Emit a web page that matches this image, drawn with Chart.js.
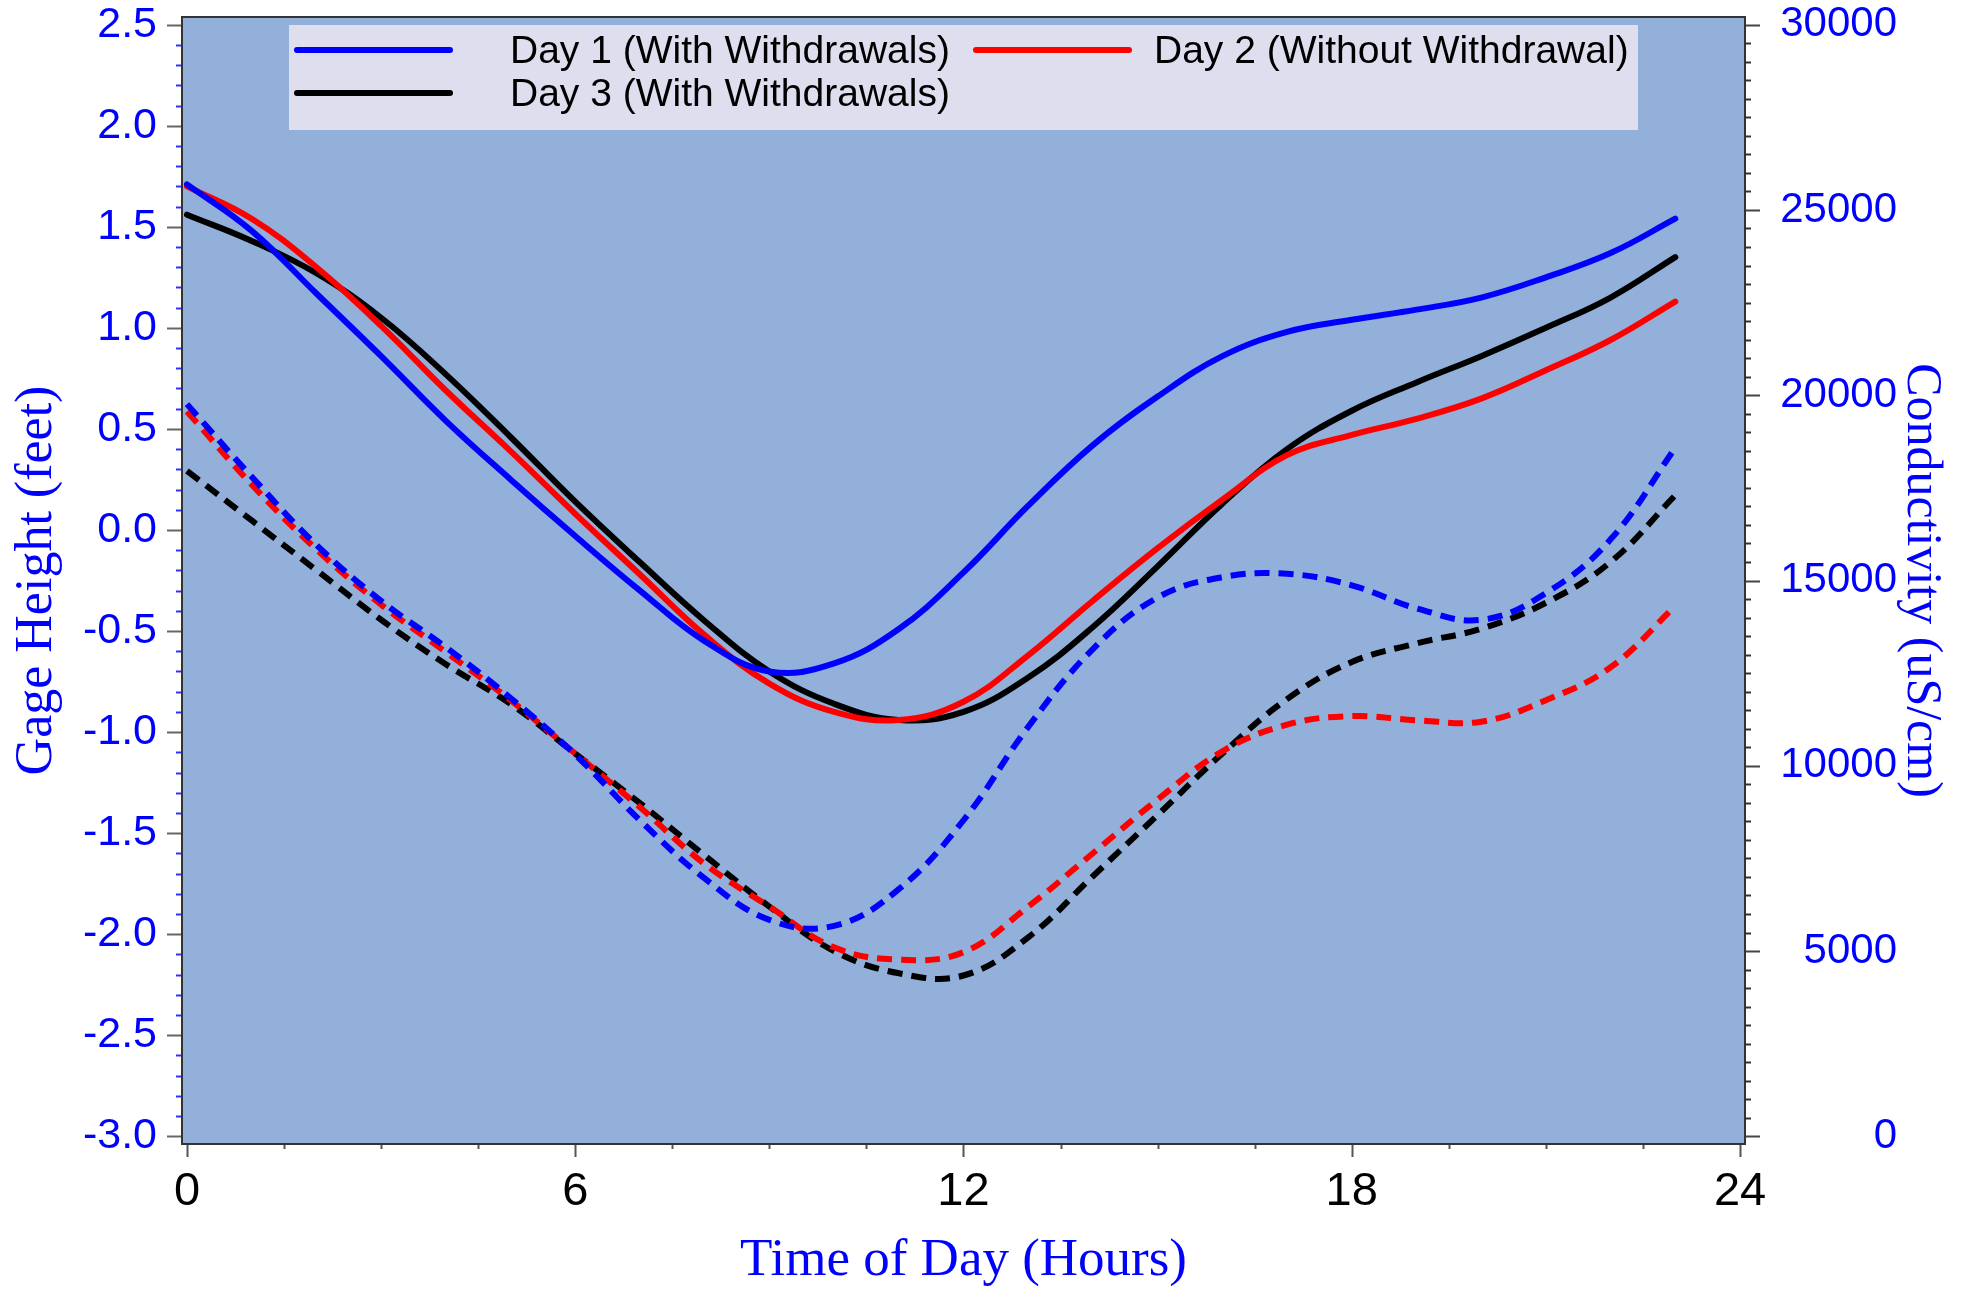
<!DOCTYPE html>
<html>
<head>
<meta charset="utf-8">
<script src="https://cdn.jsdelivr.net/npm/chart.js@4.4.1/dist/chart.umd.min.js"></script>
<style>
  body { margin: 0; background: #fff; }
  canvas { display: block; }
</style>
</head>
<body>
<canvas id="gageChart" width="1965" height="1290"></canvas>
<script>
// time of day, hours
const hours = [0, 1, 2, 3, 4, 5, 6, 7, 8, 9, 10, 11, 12, 13, 14, 15, 16, 17, 18, 19, 20, 21, 22, 23];

// gage height (feet), left axis
const day1Gage = [1.71, 1.48, 1.17, 0.86, 0.54, 0.25, -0.03, -0.30, -0.55, -0.70, -0.66, -0.49, -0.21, 0.12, 0.42, 0.66, 0.86, 0.98, 1.04, 1.09, 1.15, 1.25, 1.37, 1.54];
const day2Gage = [1.70, 1.54, 1.30, 1.01, 0.69, 0.39, 0.08, -0.22, -0.52, -0.76, -0.90, -0.94, -0.85, -0.62, -0.35, -0.09, 0.15, 0.37, 0.47, 0.55, 0.65, 0.79, 0.94, 1.13];
const day3Gage = [1.56, 1.43, 1.27, 1.05, 0.77, 0.46, 0.14, -0.16, -0.45, -0.70, -0.86, -0.94, -0.90, -0.73, -0.48, -0.18, 0.13, 0.40, 0.59, 0.73, 0.86, 1.00, 1.15, 1.35];

// conductivity (uS/cm), right axis
const day1Cond = [19760, 17800, 15960, 14450, 13200, 11830, 10300, 8530, 6960, 5840, 5680, 6670, 8530, 11050, 13150, 14540, 15090, 15180, 14870, 14250, 13940, 14660, 16110, 18580];
const day2Cond = [19560, 17590, 15840, 14350, 13070, 11770, 10330, 8880, 7350, 6200, 5100, 4770, 4970, 6200, 7640, 9090, 10390, 11110, 11340, 11230, 11190, 11770, 12660, 14310];
const day3Cond = [17960, 16620, 15280, 13940, 12740, 11670, 10330, 8990, 7580, 6200, 5000, 4400, 4340, 5370, 7020, 8670, 10330, 11800, 12800, 13300, 13700, 14400, 15500, 17300];

const seriesNames = ['Day 1 (With Withdrawals)', 'Day 2 (Without Withdrawal)', 'Day 3 (With Withdrawals)'];
const seriesColors = ['#0000ff', '#ff0000', '#000000'];

const xTicks = [0, 6, 12, 18, 24];
const gageTicks = [-3.0, -2.5, -2.0, -1.5, -1.0, -0.5, 0.0, 0.5, 1.0, 1.5, 2.0, 2.5];
const condTicks = [0, 5000, 10000, 15000, 20000, 25000, 30000];

const sans = '"Liberation Sans", Arial, sans-serif';
const serif = '"Liberation Serif", "Times New Roman", serif';

function pts(arr) {
  return hours.map((h, i) => ({ x: h, y: arr[i] }));
}

function gageSet(i, arr) {
  return {
    label: seriesNames[i], data: pts(arr), yAxisID: 'y',
    borderColor: seriesColors[i], borderWidth: 6, borderCapStyle: 'round',
    pointRadius: 0, tension: 0.4, fill: false
  };
}

function condSet(i, arr) {
  return {
    label: seriesNames[i] + ' conductivity', data: pts(arr), yAxisID: 'y2',
    borderColor: seriesColors[i], borderWidth: 6, borderDash: [15, 9],
    pointRadius: 0, tension: 0.4, fill: false
  };
}

// fixed axis sizes, no extra label padding around the plot
function fixSize(size) {
  return s => {
    if (s.isHorizontal()) s.height = size; else s.width = size;
    s.paddingTop = 0; s.paddingBottom = 0; s.paddingLeft = 0; s.paddingRight = 0;
  };
}

// background, frame, minor/major ticks and the boxed legend
const frame = {
  id: 'frame',
  beforeDraw(chart) {
    const { ctx, chartArea: a } = chart;
    ctx.save();
    ctx.fillStyle = '#92b0d9';
    ctx.fillRect(a.left, a.top, a.right - a.left, a.bottom - a.top);
    ctx.restore();
  },
  afterDatasetsDraw(chart) {
    const { ctx, chartArea: a, scales } = chart;
    ctx.save();
    ctx.lineWidth = 2;

    // left axis: major every 0.5 (gray), minor every 0.1 (blue)
    for (let i = -30; i <= 25; i++) {
      const y = Math.round(scales.y.getPixelForValue(i / 10)) + 0.5;
      const major = i % 5 === 0;
      ctx.strokeStyle = major ? '#666' : '#3030ff';
      ctx.beginPath();
      ctx.moveTo(a.left - (major ? 15 : 6), y);
      ctx.lineTo(a.left, y);
      ctx.stroke();
    }
    // right axis: major every 5000, minor every 500
    for (let i = 0; i <= 60; i++) {
      const y = Math.round(scales.y2.getPixelForValue(i * 500)) + 0.5;
      const major = i % 10 === 0;
      ctx.strokeStyle = major ? '#444' : '#333';
      ctx.beginPath();
      ctx.moveTo(a.right, y);
      ctx.lineTo(a.right + (major ? 15 : 6), y);
      ctx.stroke();
    }
    // x axis: major every 6 h, minor every 1.5 h
    for (let i = 0; i <= 16; i++) {
      const x = Math.round(scales.x.getPixelForValue(i * 1.5)) + 0.5;
      const major = i % 4 === 0;
      ctx.strokeStyle = '#555';
      ctx.beginPath();
      ctx.moveTo(x, a.bottom);
      ctx.lineTo(x, a.bottom + (major ? 13 : 5));
      ctx.stroke();
    }

    ctx.strokeStyle = '#333';
    ctx.strokeRect(a.left, a.top, a.right - a.left, a.bottom - a.top);

    // legend box
    ctx.fillStyle = '#dedeee';
    ctx.fillRect(289, 25, 1349, 105);
    const rows = [[0, 297, 510, 50], [1, 976, 1154, 50], [2, 297, 510, 93]];
    ctx.font = '39px ' + sans;
    ctx.textBaseline = 'middle';
    ctx.textAlign = 'left';
    rows.forEach(([i, lx, tx, ly]) => {
      ctx.strokeStyle = seriesColors[i];
      ctx.lineWidth = 6;
      ctx.lineCap = 'round';
      ctx.beginPath();
      ctx.moveTo(lx, ly);
      ctx.lineTo(lx + 153, ly);
      ctx.stroke();
      ctx.fillStyle = '#000';
      ctx.fillText(seriesNames[i], tx, ly + 2);
    });
    ctx.restore();
  }
};

new Chart(document.getElementById('gageChart'), {
  type: 'line',
  data: {
    datasets: [
      gageSet(0, day1Gage),
      gageSet(1, day2Gage),
      gageSet(2, day3Gage),
      condSet(0, day1Cond),
      condSet(1, day2Cond),
      condSet(2, day3Cond)
    ]
  },
  options: {
    responsive: false,
    animation: false,
    devicePixelRatio: 1,
    layout: { autoPadding: false, padding: { top: 17, left: 0, right: 68, bottom: 0 } },
    plugins: { legend: { display: false }, tooltip: { enabled: false } },
    scales: {
      x: {
        type: 'linear', position: 'bottom', min: -0.077, max: 24.077,
        afterBuildTicks: s => { s.ticks = xTicks.map(v => ({ value: v })); },
        afterFit: fixSize(146),
        grid: { drawOnChartArea: false, drawTicks: false },
        border: { display: false },
        ticks: { color: '#000', font: { family: sans, size: 47 }, padding: 20, maxRotation: 0, autoSkip: false },
        title: {
          display: true, text: 'Time of Day (Hours)', color: '#0000ff',
          font: { family: serif, size: 53, lineHeight: 1.1 }, padding: { top: 0, bottom: 0 }
        }
      },
      y: {
        type: 'linear', position: 'left', min: -3.038, max: 2.538,
        afterBuildTicks: s => { s.ticks = gageTicks.map(v => ({ value: v })); },
        afterFit: fixSize(182),
        grid: { drawOnChartArea: false, drawTicks: false },
        border: { display: false },
        ticks: { color: '#0000ff', font: { family: sans, size: 43 }, padding: 25, autoSkip: false,
          callback: v => v.toFixed(1) },
        title: {
          display: true, text: 'Gage Height (feet)', color: '#0000ff',
          font: { family: serif, size: 52, lineHeight: 1.1 }, padding: { top: 9, bottom: 0 }
        }
      },
      y2: {
        type: 'linear', position: 'right', min: -207, max: 30207,
        afterBuildTicks: s => { s.ticks = condTicks.map(v => ({ value: v })); },
        afterFit: fixSize(152),
        grid: { drawOnChartArea: false, drawTicks: false },
        border: { display: false },
        ticks: { color: '#0000ff', font: { family: sans, size: 42 }, padding: 35, crossAlign: 'far', autoSkip: false,
          callback: v => String(v) },
        title: {
          display: true, text: 'Conductivity (uS/cm)', color: '#0000ff',
          font: { family: serif, size: 50, lineHeight: 1.1 }, padding: { top: -52, bottom: 0 }
        }
      }
    }
  },
  plugins: [frame]
});
</script>
</body>
</html>
